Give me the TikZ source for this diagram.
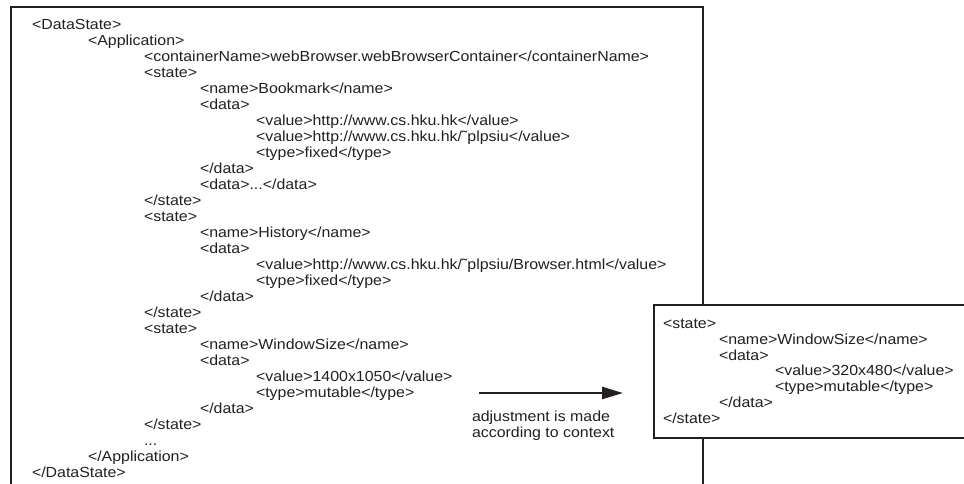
\documentclass[tikz,border=0pt]{standalone}
\usepackage{fontspec}
\setmainfont{Liberation Sans}[FakeStretch=1.09]
\usetikzlibrary{arrows.meta}
\definecolor{ink}{HTML}{231F20}
\tikzset{
  xmlline/.style={anchor=base west, inner sep=0pt, outer sep=0pt, text=ink,
    font=\fontsize{14.6}{16}\selectfont},
  frame/.style={draw=ink, line width=2pt},
  popup/.style={draw=ink, line width=1.6pt, fill=white},
  flow/.style={draw=ink, line width=2.4pt, -{Triangle[length=21pt,width=12pt]}}
}
\begin{document}
\begin{tikzpicture}[x=1pt, y=-1pt]
\useasboundingbox (0,0) rectangle (964,483);

% open frame holding the full application state
\draw[frame] (11,490) -- (11,7) -- (703,7) -- (703,490);

% full state document
\node[xmlline] (m1)  at (32,29.5)  {<DataState>};
\node[xmlline] (m2)  at (88,45.5)  {<Application>};
\node[xmlline] (m3)  at (144,61.5) {<containerName>webBrowser.webBrowserContainer</containerName>};
\node[xmlline] (m4)  at (144,77.5) {<state>};
\node[xmlline] (m5)  at (200,93.5) {<name>Bookmark</name>};
\node[xmlline] (m6)  at (200,109.5) {<data>};
\node[xmlline] (m7)  at (256,125.5) {<value>http://www.cs.hku.hk</value>};
\node[xmlline] (m8)  at (256,141.5) {<value>http://www.cs.hku.hk/˜plpsiu</value>};
\node[xmlline] (m9)  at (256,157.5) {<type>fixed</type>};
\node[xmlline] (m10) at (200,173.5) {</data>};
\node[xmlline] (m11) at (200,189.5) {<data>...</data>};
\node[xmlline] (m12) at (144,205.5) {</state>};
\node[xmlline] (m13) at (144,221.5) {<state>};
\node[xmlline] (m14) at (200,237.5) {<name>History</name>};
\node[xmlline] (m15) at (200,253.5) {<data>};
\node[xmlline] (m16) at (256,269.5) {<value>http://www.cs.hku.hk/˜plpsiu/Browser.html</value>};
\node[xmlline] (m17) at (256,285.5) {<type>fixed</type>};
\node[xmlline] (m18) at (200,301.5) {</data>};
\node[xmlline] (m19) at (144,317.5) {</state>};
\node[xmlline] (m20) at (144,333.5) {<state>};
\node[xmlline] (m21) at (200,349.5) {<name>WindowSize</name>};
\node[xmlline] (m22) at (200,365.5) {<data>};
\node[xmlline] (m23) at (256,381.5) {<value>1400x1050</value>};
\node[xmlline] (m24) at (256,397.5) {<type>mutable</type>};
\node[xmlline] (m25) at (200,413.5) {</data>};
\node[xmlline] (m26) at (144,429.5) {</state>};
\node[xmlline] (m27) at (144,445.5) {...};
\node[xmlline] (m28) at (88,461.5) {</Application>};
\node[xmlline] (m29) at (32,477.5) {</DataState>};

% adapted state, drawn over the frame's right edge
\path[popup] (975,305) -- (654,305) -- (654,438) -- (975,438);
\node[xmlline] (s1) at (663,328.5) {<state>};
\node[xmlline] (s2) at (719,344.3) {<name>WindowSize</name>};
\node[xmlline] (s3) at (719,360.1) {<data>};
\node[xmlline] (s4) at (775,375.9) {<value>320x480</value>};
\node[xmlline] (s5) at (775,391.7) {<type>mutable</type>};
\node[xmlline] (s6) at (719,407.5) {</data>};
\node[xmlline] (s7) at (663,423.3) {</state>};

% adjustment arrow and its note
\coordinate (from) at (479,393);
\coordinate (to) at (623,393);
\draw[flow] (from) -- (to);
\node[xmlline] (note1) at (472,421.5) {adjustment is made};
\node[xmlline] (note2) at (472,437.5) {according to context};
\end{tikzpicture}
\end{document}
